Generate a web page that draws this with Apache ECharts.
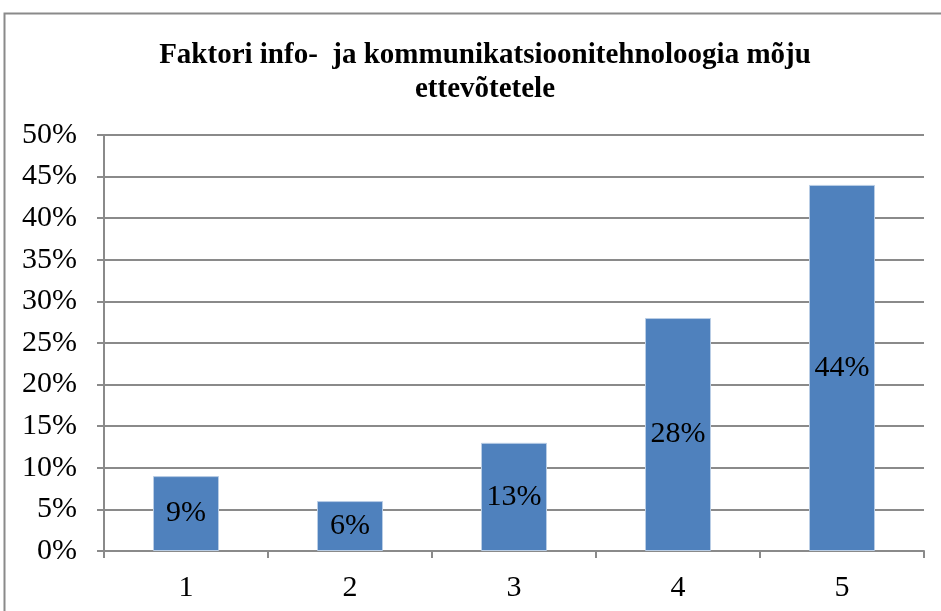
<!DOCTYPE html>
<html>
<head>
    <meta charset="utf-8">
    <title>ECharts</title>
    <script src="https://cdn.jsdelivr.net/npm/echarts@6/dist/echarts.min.js"></script>
</head>
<body style="margin:0">
    <div id="main" style="width: 941px;height: 611px;"></div>
    <script type="text/javascript">
        // andmed
        var categories = ['1', '2', '3', '4', '5'];
        var values = [9, 6, 13, 28, 44];
        var titleText = 'Faktori info-  ja kommunikatsioonitehnoloogia mõju\nettevõtetele';

        var myChart = echarts.init(document.getElementById('main'));
        var serif = '"Liberation Serif", "DejaVu Serif", serif';

        var option = {
            backgroundColor: '#fff',
            animation: false,
            title: {
                text: titleText,
                left: 480,
                textAlign: 'center',
                top: 34,
                textStyle: {
                    fontFamily: serif,
                    fontWeight: 'bold',
                    fontSize: 29,
                    lineHeight: 34,
                    color: '#000'
                }
            },
            graphic: [
                {
                    type: 'rect',
                    shape: { x: 4.5, y: 13.5, width: 960, height: 640 },
                    style: { fill: 'none', stroke: '#8a8a8a', lineWidth: 2 },
                    silent: true
                }
            ],
            grid: { left: 104, right: 17, top: 135, bottom: 60 },
            xAxis: {
                type: 'category',
                data: categories,
                axisLine: { lineStyle: { color: '#8a8a8a', width: 2 } },
                axisTick: { show: true, length: 7, lineStyle: { color: '#8a8a8a', width: 2 } },
                axisLabel: { fontFamily: serif, fontSize: 30, color: '#000', margin: 22 }
            },
            yAxis: {
                type: 'value',
                min: 0,
                max: 50,
                interval: 5,
                axisLine: { show: true, lineStyle: { color: '#8a8a8a', width: 2 } },
                axisTick: { show: true, length: 7, lineStyle: { color: '#8a8a8a', width: 2 } },
                splitLine: { lineStyle: { color: '#8a8a8a', width: 2 } },
                axisLabel: {
                    fontFamily: serif, fontSize: 30, color: '#000', margin: 27,
                    formatter: '{value}%'
                }
            },
            series: [
                {
                    type: 'bar',
                    data: values,
                    barWidth: 66,
                    itemStyle: { color: '#4F81BD', borderColor: '#b9cde5', borderWidth: 1 },
                    label: {
                        show: true,
                        position: 'inside',
                        formatter: '{c}%',
                        fontFamily: serif,
                        fontSize: 30,
                        color: '#000'
                    }
                }
            ]
        };

        myChart.setOption(option);
    </script>
</body>
</html>
